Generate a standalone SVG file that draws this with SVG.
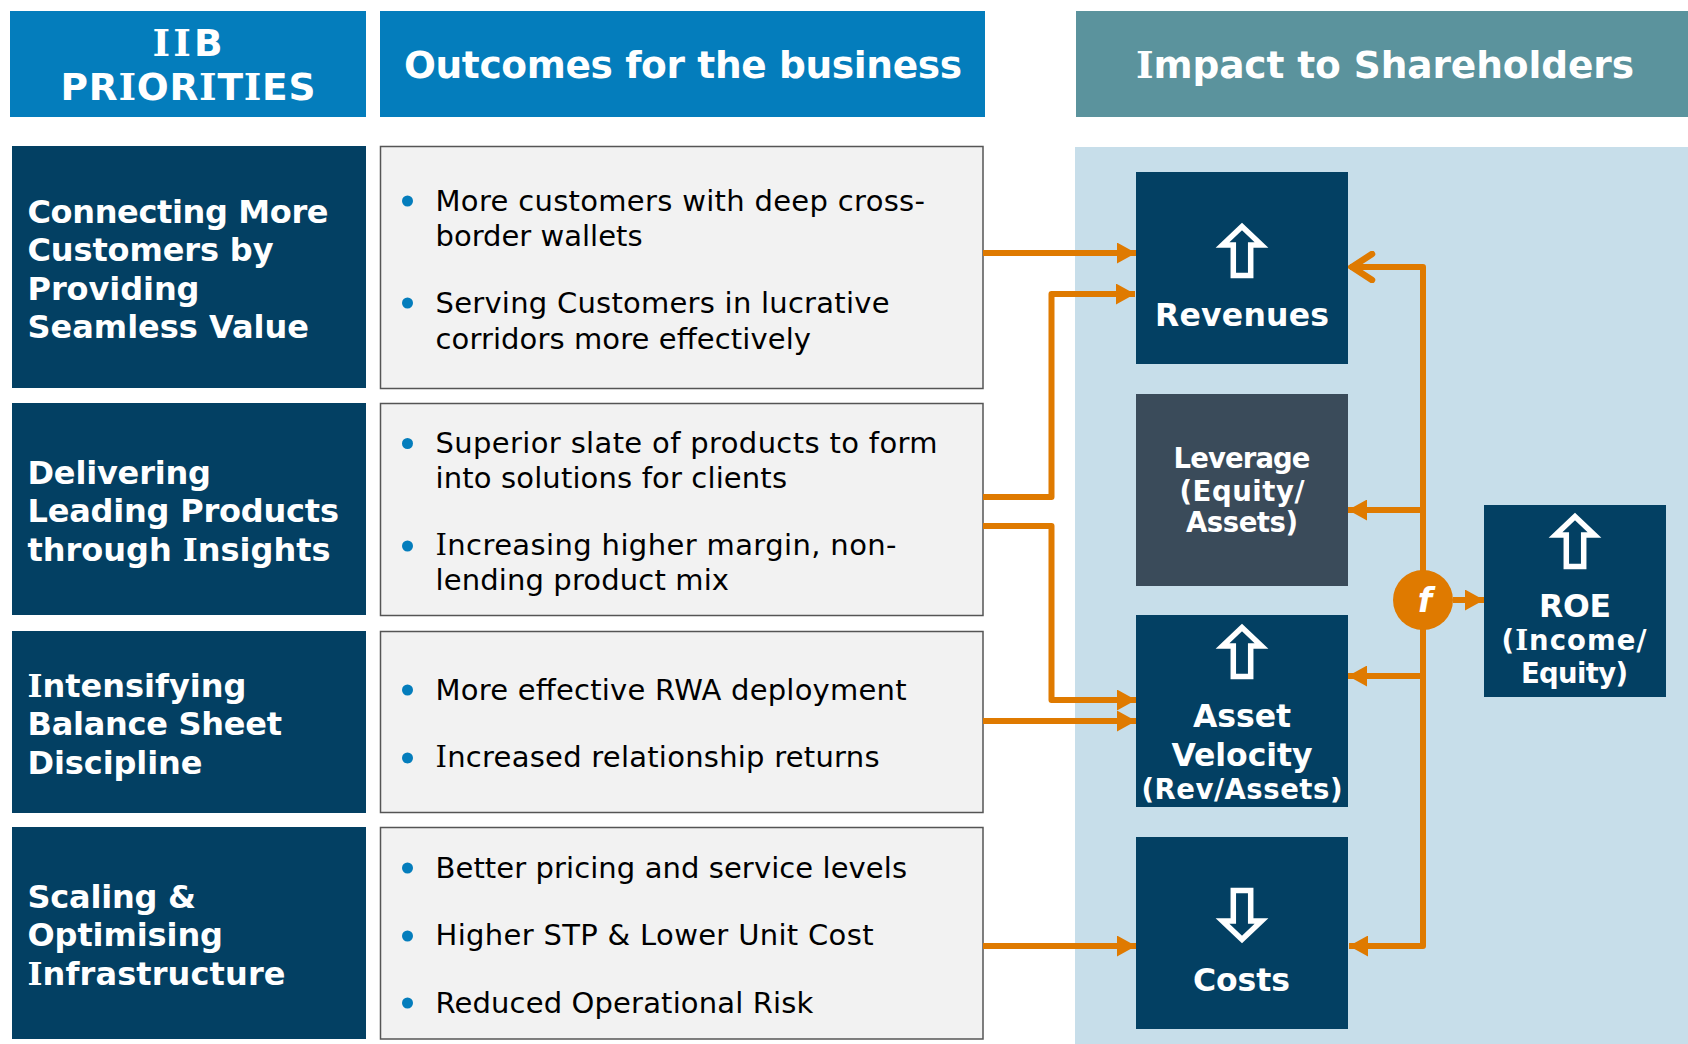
<svg xmlns="http://www.w3.org/2000/svg" width="1688" height="1044" viewBox="0 0 1688 1044">
<style>
text{font-family:"DejaVu Sans",Verdana,sans-serif}
.hd{fill:#047dbc}
.pri{fill:#034063}
.box{fill:#f2f2f2;stroke:#555;stroke-width:1.5}
.ht{font-size:37.5px;font-weight:700;fill:#fff;text-anchor:middle}
.pt{font-size:32px;font-weight:700;fill:#fff}
.bt{font-size:29px;fill:#000}
.bl{fill:#047dbc}
.nt{font-size:31.500px;font-weight:700;fill:#fff;text-anchor:middle}
.ns{font-size:27.500px;font-weight:700;fill:#fff;text-anchor:middle}
.ar{fill:none;stroke:#fff;stroke-width:5.500;stroke-linejoin:miter}
.c{fill:none;stroke:#df7a00;stroke-width:6;stroke-linejoin:round}
.si{font-family:"DejaVu Serif",serif}
</style>
<defs>
<marker id="h" markerUnits="userSpaceOnUse" markerWidth="19" markerHeight="21" refX="19" refY="10.500" orient="auto"><path d="M0 0L19 10.500L0 21Z" fill="#df7a00"/></marker>
<marker id="o" markerUnits="userSpaceOnUse" markerWidth="28" markerHeight="32" refX="26" refY="16" orient="auto"><path d="M4 3L24 16L4 29" fill="none" stroke="#df7a00" stroke-width="6.500" stroke-linecap="round"/></marker>
</defs>
<rect id="panel" x="1075" y="147" width="613" height="897" fill="#c7deea"/>
<g id="header-priorities"><rect class="hd" x="10" y="11" width="356" height="106"/><text class="ht" x="187.500" y="55.500" textLength="70"><tspan class="si">II</tspan>B</text><text class="ht" x="188" y="100" textLength="255">PR<tspan class="si">I</tspan>OR<tspan class="si">I</tspan>T<tspan class="si">I</tspan>ES</text></g>
<g id="header-outcomes"><rect class="hd" x="380" y="11" width="605" height="106"/><text class="ht" x="683" y="78" textLength="558">Outcomes for the business</text></g>
<g id="header-impact"><rect x="1076" y="11" width="612" height="106" fill="#5b939d"/><text class="ht" x="1385" y="78" textLength="498"><tspan class="si">I</tspan>mpact to Shareholders</text></g>
<g id="priority-1"><rect class="pri" x="12" y="146" width="354" height="242"/><text class="pt" x="27.500" y="223" textLength="301">Connecting More</text><text class="pt" x="27.500" y="261" textLength="246">Customers by</text><text class="pt" x="27.500" y="300" textLength="172">Providing</text><text class="pt" x="27.500" y="338" textLength="281.500">Seamless Value</text></g>
<g id="priority-2"><rect class="pri" x="12" y="403" width="354" height="212"/><text class="pt" x="27.500" y="484" textLength="183.500">Delivering</text><text class="pt" x="27.500" y="522" textLength="311.500">Leading Products</text><text class="pt" x="27.500" y="561" textLength="303">through <tspan class="si">I</tspan>nsights</text></g>
<g id="priority-3"><rect class="pri" x="12" y="631" width="354" height="182"/><text class="pt" x="27.500" y="697" textLength="219"><tspan class="si">I</tspan>ntensifying</text><text class="pt" x="27.500" y="735" textLength="254.500">Balance Sheet</text><text class="pt" x="27.500" y="774" textLength="175">Discipline</text></g>
<g id="priority-4"><rect class="pri" x="12" y="827" width="354" height="212"/><text class="pt" x="27.500" y="907.500" textLength="168.500">Scaling &amp;</text><text class="pt" x="27.500" y="946" textLength="195.500">Optimising</text><text class="pt" x="27.500" y="985" textLength="258"><tspan class="si">I</tspan>nfrastructure</text></g>
<g id="outcome-1"><rect class="box" x="380.500" y="146.500" width="602.500" height="242"/><circle class="bl" cx="407.500" cy="201" r="5.500"/><text class="bt" x="435.500" y="211" textLength="489.500">More customers with deep cross-</text><text class="bt" x="435.500" y="246" textLength="207">border wallets</text><circle class="bl" cx="407.500" cy="303" r="5.500"/><text class="bt" x="435.500" y="313" textLength="454">Serving Customers in lucrative</text><text class="bt" x="435.500" y="349" textLength="375.500">corridors more effectively</text></g>
<g id="outcome-2"><rect class="box" x="380.500" y="403.500" width="602.500" height="212"/><circle class="bl" cx="407.500" cy="443.500" r="5.500"/><text class="bt" x="435.500" y="453" textLength="502">Superior slate of products to form</text><text class="bt" x="435.500" y="488" textLength="351.500">into solutions for clients</text><circle class="bl" cx="407.500" cy="546" r="5.500"/><text class="bt" x="435.500" y="555" textLength="461"><tspan class="si">I</tspan>ncreasing higher margin, non-</text><text class="bt" x="435.500" y="590" textLength="293.500">lending product mix</text></g>
<g id="outcome-3"><rect class="box" x="380.500" y="631.500" width="602.500" height="181"/><circle class="bl" cx="407.500" cy="690" r="5.500"/><text class="bt" x="435.500" y="700" textLength="471">More effective RWA deployment</text><circle class="bl" cx="407.500" cy="758" r="5.500"/><text class="bt" x="435.500" y="767" textLength="444"><tspan class="si">I</tspan>ncreased relationship returns</text></g>
<g id="outcome-4"><rect class="box" x="380.500" y="827.500" width="602.500" height="211.500"/><circle class="bl" cx="407.500" cy="868" r="5.500"/><text class="bt" x="435.500" y="878" textLength="471.500">Better pricing and service levels</text><circle class="bl" cx="407.500" cy="936" r="5.500"/><text class="bt" x="435.500" y="945" textLength="438">Higher STP &amp; Lower Unit Cost</text><circle class="bl" cx="407.500" cy="1003" r="5.500"/><text class="bt" x="435.500" y="1013" textLength="377.800">Reduced Operational Risk</text></g>
<g id="revenues"><rect class="pri" x="1136" y="172" width="212" height="192"/><path class="ar" d="M1242 226.500L1222.500 245H1233.300V275.500H1250.700V245H1261.500Z"/><text class="nt" x="1242" y="326" textLength="174">Revenues</text></g>
<g id="leverage"><rect x="1136" y="394" width="212" height="192" fill="#3a4b5a"/><text class="ns" x="1242" y="468" textLength="137">Leverage</text><text class="ns" x="1242" y="501" textLength="125">(Equity/</text><text class="ns" x="1242" y="532" textLength="112">Assets)</text></g>
<g id="asset-velocity"><rect class="pri" x="1136" y="615" width="212" height="192"/><path class="ar" d="M1242 627.500L1222.500 646H1233.300V676.500H1250.700V646H1261.500Z"/><text class="nt" x="1242" y="727" textLength="98">Asset</text><text class="nt" x="1242" y="766" textLength="141">Velocity</text><text class="ns" x="1242" y="799" textLength="201">(Rev/Assets)</text></g>
<g id="costs"><rect class="pri" x="1136" y="837" width="212" height="192"/><path class="ar" d="M1242 939.500L1222.500 921H1233.300V890.500H1250.700V921H1261.500Z"/><text class="nt" x="1241.500" y="991" textLength="97">Costs</text></g>
<g id="roe"><rect class="pri" x="1484" y="505" width="182" height="192"/><path class="ar" d="M1575 516.500L1555.500 535H1566.300V566.500H1583.700V535H1594.500Z"/><text class="nt" x="1575" y="616.500" textLength="72">ROE</text><text class="ns" x="1574" y="649.500" textLength="145">(<tspan class="si">I</tspan>ncome/</text><text class="ns" x="1574.500" y="682.500" textLength="107">Equity)</text></g>
<g id="connectors">
<path class="c" d="M983 253H1136" marker-end="url(#h)"/>
<path class="c" d="M983 497H1051.500V294H1135" marker-end="url(#h)"/>
<path class="c" d="M983 526H1051.500V700H1136" marker-end="url(#h)"/>
<path class="c" d="M983 721H1136" marker-end="url(#h)"/>
<path class="c" d="M983 946H1136" marker-end="url(#h)"/>
<path class="c" d="M1349 946H1423V267H1350" marker-end="url(#o)"/>
<path class="c" d="M1423 510H1348" marker-end="url(#h)"/>
<path class="c" d="M1423 676H1348" marker-end="url(#h)"/>
<path class="c" d="M1423 946H1349" marker-end="url(#h)"/>
<path class="c" d="M1453 600H1484" marker-end="url(#h)"/>
</g>
<g id="f-node"><circle cx="1423" cy="600" r="30" fill="#df7a00"/><text x="1425" y="612" font-size="33" font-weight="700" font-style="italic" fill="#fff" text-anchor="middle">f</text></g>
</svg>
